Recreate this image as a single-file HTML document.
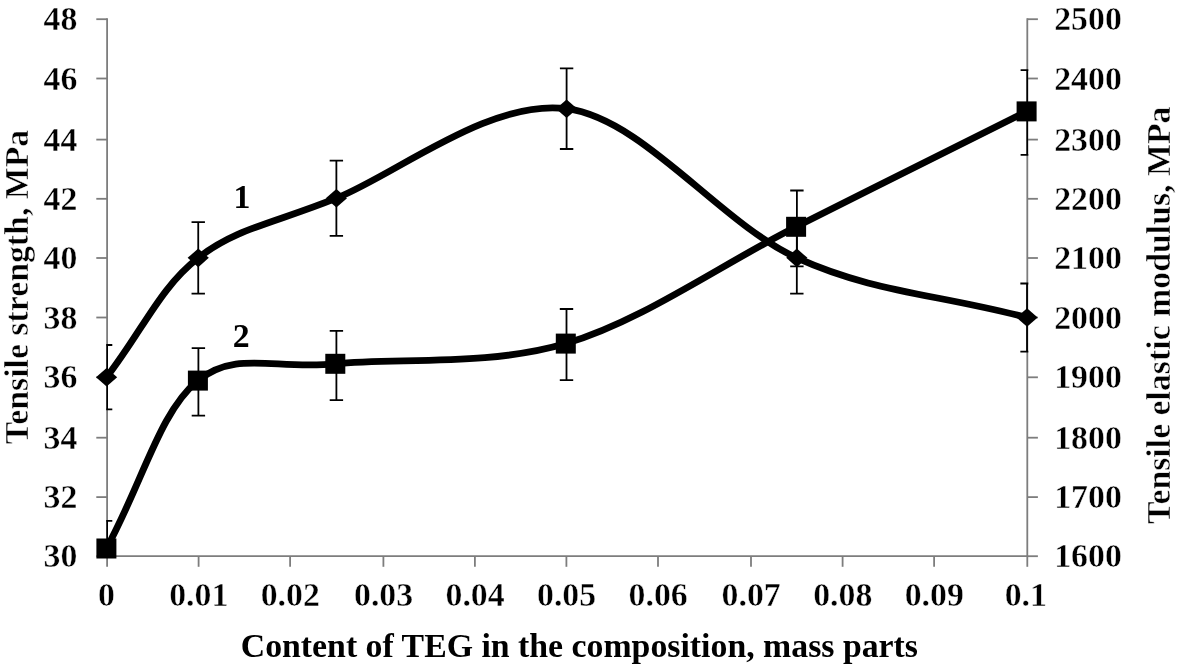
<!DOCTYPE html>
<html><head><meta charset="utf-8"><style>
html,body{margin:0;padding:0;background:#fff;width:1181px;height:671px;overflow:hidden}
svg{display:block;will-change:transform}
text{font-family:"Liberation Serif",serif;font-weight:bold;font-size:33.8px;fill:#000}
.n{stroke:#fff;stroke-width:0.4px}
.r{stroke:#fff;stroke-width:0.5px}
</style></head><body>
<svg width="1181" height="671" viewBox="0 0 1181 671">
<rect width="1181" height="671" fill="#fff"/>
<g stroke="#7d7d7d" stroke-width="1.8" fill="none">
<path d="M107.1,18.2 V556.2 M1027.3,18.2 V556.2 M106.1,556.2 H1028.3"/>
<path d="M96.3,19.20 H107.1"/>
<path d="M1027.3,19.20 H1037.9"/>
<path d="M96.3,78.50 H107.1"/>
<path d="M1027.3,78.50 H1037.9"/>
<path d="M96.3,139.60 H107.1"/>
<path d="M1027.3,139.60 H1037.9"/>
<path d="M96.3,198.80 H107.1"/>
<path d="M1027.3,198.80 H1037.9"/>
<path d="M96.3,258.00 H107.1"/>
<path d="M1027.3,258.00 H1037.9"/>
<path d="M96.3,317.50 H107.1"/>
<path d="M1027.3,317.50 H1037.9"/>
<path d="M96.3,377.30 H107.1"/>
<path d="M1027.3,377.30 H1037.9"/>
<path d="M96.3,437.70 H107.1"/>
<path d="M1027.3,437.70 H1037.9"/>
<path d="M96.3,497.10 H107.1"/>
<path d="M1027.3,497.10 H1037.9"/>
<path d="M96.3,556.20 H107.1"/>
<path d="M1027.3,556.20 H1037.9"/>
<path d="M107.10,556.2 V566.8"/>
<path d="M198.60,556.2 V566.8"/>
<path d="M290.10,556.2 V566.8"/>
<path d="M383.40,556.2 V566.8"/>
<path d="M474.90,556.2 V566.8"/>
<path d="M566.40,556.2 V566.8"/>
<path d="M658.00,556.2 V566.8"/>
<path d="M751.00,556.2 V566.8"/>
<path d="M842.60,556.2 V566.8"/>
<path d="M934.10,556.2 V566.8"/>
<path d="M1027.30,556.2 V566.8"/>
</g>
<defs><clipPath id="pa"><rect x="106.2" y="0" width="922.10" height="556.7"/></clipPath></defs>
<g clip-path="url(#pa)" stroke="#000" stroke-width="1.8" fill="none">
<path d="M107.10,344.98 V409.42 M101.90,344.98 H112.30 M101.90,409.42 H112.30"/>
<path d="M198.24,222.07 V293.67 M191.54,222.07 H204.94 M191.54,293.67 H204.94"/>
<path d="M336.38,160.61 V235.79 M329.68,160.61 H343.07 M329.68,235.79 H343.07"/>
<path d="M566.60,68.43 V148.98 M559.90,68.43 H573.30 M559.90,148.98 H573.30"/>
<path d="M796.82,222.07 V293.67 M790.12,222.07 H803.52 M790.12,293.67 H803.52"/>
<path d="M1027.05,283.52 V351.54 M1020.35,283.52 H1033.75 M1020.35,351.54 H1033.75"/>
<path d="M107.10,520.90 V578.50 M101.90,520.90 H112.30 M101.90,578.50 H112.30"/>
<path d="M198.40,348.10 V415.60 M191.70,348.10 H205.10 M191.70,415.60 H205.10"/>
<path d="M336.40,330.80 V400.20 M329.70,330.80 H343.10 M329.70,400.20 H343.10"/>
<path d="M566.50,309.00 V380.20 M559.80,309.00 H573.20 M559.80,380.20 H573.20"/>
<path d="M796.90,190.50 V266.40 M790.20,190.50 H803.60 M790.20,266.40 H803.60"/>
<path d="M1027.30,70.20 V154.80 M1020.60,70.20 H1034.00 M1020.60,154.80 H1034.00"/>
</g>
<path d="M106.60,377.20 C143.26,329.47 159.94,287.70 198.24,257.87 C236.54,228.03 274.98,223.06 336.38,198.20 C397.77,173.34 489.86,98.76 566.60,108.70 C643.34,118.64 720.08,223.06 796.82,257.87 C873.57,292.67 934.96,293.67 1027.05,317.53" stroke="#000" stroke-width="6.8" fill="none" stroke-linejoin="round"/>
<path d="M106.40,548.50 C143.00,481.34 159.75,411.38 197.90,380.60 C236.05,349.82 273.98,369.97 335.30,363.80 C396.62,357.63 489.00,366.43 565.80,343.60 C642.60,320.77 719.30,265.50 796.10,226.80 C872.90,188.10 934.40,157.56 1026.60,111.40" stroke="#000" stroke-width="6.8" fill="none" stroke-linejoin="round"/>
<path d="M106.60,367.90 L117.20,377.20 L106.60,386.50 L96.00,377.20 Z" fill="#000"/>
<path d="M198.24,248.57 L208.84,257.87 L198.24,267.17 L187.64,257.87 Z" fill="#000"/>
<path d="M336.38,188.90 L346.98,198.20 L336.38,207.50 L325.77,198.20 Z" fill="#000"/>
<path d="M566.60,99.40 L577.20,108.70 L566.60,118.00 L556.00,108.70 Z" fill="#000"/>
<path d="M796.82,248.57 L807.42,257.87 L796.82,267.17 L786.22,257.87 Z" fill="#000"/>
<path d="M1027.05,308.23 L1037.65,317.53 L1027.05,326.83 L1016.45,317.53 Z" fill="#000"/>
<rect x="96.40" y="538.50" width="20.00" height="20.00" fill="#000"/>
<rect x="187.90" y="370.60" width="20.00" height="20.00" fill="#000"/>
<rect x="325.30" y="353.80" width="20.00" height="20.00" fill="#000"/>
<rect x="555.80" y="333.60" width="20.00" height="20.00" fill="#000"/>
<rect x="786.10" y="216.80" width="20.00" height="20.00" fill="#000"/>
<rect x="1016.60" y="101.40" width="20.00" height="20.00" fill="#000"/>
<text class="n" x="77.4" y="30.20" text-anchor="end">48</text>
<text class="n" x="77.4" y="89.50" text-anchor="end">46</text>
<text class="n" x="77.4" y="150.60" text-anchor="end">44</text>
<text class="n" x="77.4" y="209.80" text-anchor="end">42</text>
<text class="n" x="77.4" y="269.00" text-anchor="end">40</text>
<text class="n" x="77.4" y="328.50" text-anchor="end">38</text>
<text class="n" x="77.4" y="388.30" text-anchor="end">36</text>
<text class="n" x="77.4" y="448.70" text-anchor="end">34</text>
<text class="n" x="77.4" y="508.10" text-anchor="end">32</text>
<text class="n" x="77.4" y="567.20" text-anchor="end">30</text>
<text class="n" x="1054.2" y="30.20">2500</text>
<text class="n" x="1054.2" y="89.50">2400</text>
<text class="n" x="1054.2" y="150.60">2300</text>
<text class="n" x="1054.2" y="209.80">2200</text>
<text class="n" x="1054.2" y="269.00">2100</text>
<text class="n" x="1054.2" y="328.50">2000</text>
<text class="n" x="1054.2" y="388.30">1900</text>
<text class="n" x="1054.2" y="448.70">1800</text>
<text class="n" x="1054.2" y="508.10">1700</text>
<text class="n" x="1054.2" y="567.20">1600</text>
<text class="n" x="106.50" y="606.2" text-anchor="middle">0</text>
<text class="n" x="198.80" y="606.2" text-anchor="middle">0.01</text>
<text class="n" x="290.30" y="606.2" text-anchor="middle">0.02</text>
<text class="n" x="383.60" y="606.2" text-anchor="middle">0.03</text>
<text class="n" x="475.10" y="606.2" text-anchor="middle">0.04</text>
<text class="n" x="566.60" y="606.2" text-anchor="middle">0.05</text>
<text class="n" x="658.20" y="606.2" text-anchor="middle">0.06</text>
<text class="n" x="751.20" y="606.2" text-anchor="middle">0.07</text>
<text class="n" x="842.80" y="606.2" text-anchor="middle">0.08</text>
<text class="n" x="934.30" y="606.2" text-anchor="middle">0.09</text>
<text class="n" x="1025.80" y="606.2" text-anchor="middle">0.1</text>
<text x="579.4" y="657.2" text-anchor="middle">Content of TEG in the composition, mass parts</text>
<text class="r" transform="translate(28.2,287) rotate(-90)" text-anchor="middle">Tensile strength, MPa</text>
<text class="r" transform="translate(1170.4,315.3) rotate(-90)" text-anchor="middle">Tensile elastic modulus, MPa</text>
<text x="233.6" y="208.1">1</text>
<text x="232.8" y="347.1">2</text>
</svg>
</body></html>
